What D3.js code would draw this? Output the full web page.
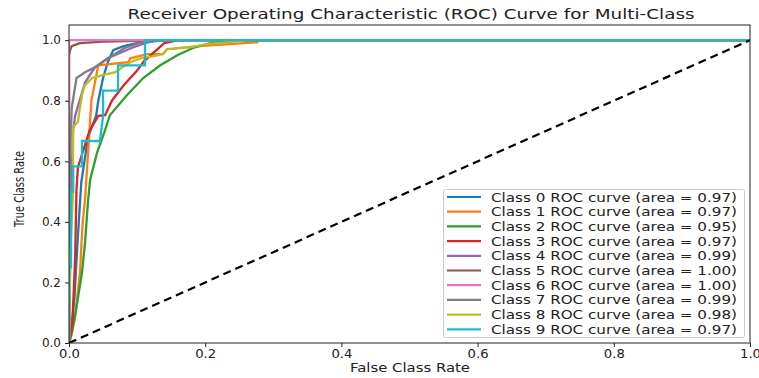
<!DOCTYPE html>
<html><head><meta charset="utf-8">
<script src="https://cdn.jsdelivr.net/npm/d3@7"></script>
<style>
html,body{margin:0;padding:0;background:#fff;}
svg text{font-family:"DejaVu Sans",sans-serif;fill:#222;}
</style></head>
<body>
<svg id="chart" width="759" height="378"></svg>
<script>
const classNames = ["Class 0","Class 1","Class 2","Class 3","Class 4","Class 5","Class 6","Class 7","Class 8","Class 9"];
const aucValues = ["0.97","0.97","0.95","0.97","0.99","1.00","1.00","0.99","0.98","0.97"];
const colors = ["#1f77b4","#ff7f0e","#2ca02c","#d62728","#9467bd","#8c564b","#e377c2","#7f7f7f","#bcbd22","#17becf"];
const xTicks = [0,0.2,0.4,0.6,0.8,1.0];
const yTicks = [0,0.2,0.4,0.6,0.8,1.0];

const roc0 = [[0,0],[0.004,0.06],[0.008,0.15],[0.013,0.35],[0.018,0.53],[0.028,0.68],[0.04,0.752],[0.043,0.80],[0.05,0.875],[0.057,0.927],[0.065,0.967],[0.08,0.98],[0.1,0.99],[0.14,1.0],[1,1]];
const roc1 = [[0,0],[0.004,0.03],[0.009,0.086],[0.016,0.231],[0.020,0.396],[0.0235,0.472],[0.033,0.802],[0.043,0.917],[0.087,0.927],[0.09,0.94],[0.115,0.954],[0.138,0.954],[0.144,0.97],[0.19,0.98],[0.276,0.993],[0.28,1.0],[1,1]];
const roc2 = [[0,0],[0.004,0.033],[0.011,0.119],[0.019,0.231],[0.0235,0.33],[0.028,0.47],[0.031,0.538],[0.041,0.627],[0.053,0.703],[0.060,0.752],[0.085,0.818],[0.109,0.875],[0.134,0.917],[0.159,0.950],[0.182,0.974],[0.207,0.990],[0.232,0.997],[0.276,1.0],[1,1]];
const roc3 = [[0,0],[0.005,0.066],[0.009,0.28],[0.011,0.505],[0.013,0.58],[0.03,0.70],[0.043,0.75],[0.053,0.752],[0.063,0.80],[0.08,0.85],[0.1,0.90],[0.11,0.93],[0.13,0.97],[0.14,0.99],[0.16,1.0],[1,1]];
const roc4 = [[0,0],[0.002,0.3],[0.004,0.55],[0.006,0.7],[0.009,0.75],[0.0235,0.86],[0.038,0.91],[0.057,0.94],[0.092,0.974],[0.116,0.993],[0.13,1.0],[1,1]];
const roc5 = [[0,0],[0,0.95],[0.002,0.97],[0.004,0.98],[0.016,0.99],[0.05,0.995],[0.1,0.998],[0.2,1.0],[1,1]];
const roc6 = [[0,0],[0,1.0],[1,1]];
const roc7 = [[0,0],[0,0.4],[0.002,0.65],[0.004,0.776],[0.011,0.875],[0.0235,0.894],[0.038,0.91],[0.057,0.94],[0.082,0.974],[0.107,0.993],[0.12,1.0],[1,1]];
const roc8 = [[0,0],[0.002,0.3],[0.006,0.505],[0.006,0.713],[0.013,0.73],[0.016,0.776],[0.019,0.818],[0.023,0.85],[0.034,0.875],[0.048,0.884],[0.068,0.894],[0.078,0.91],[0.09,0.927],[0.105,0.94],[0.13,0.95],[0.138,0.954],[0.144,0.97],[0.178,0.977],[0.203,0.987],[0.25,0.997],[0.266,1.0],[1,1]];
const roc9 = [[0,0],[0,0.25],[0.003,0.25],[0.003,0.5],[0.006,0.5],[0.006,0.583],[0.019,0.583],[0.019,0.667],[0.0455,0.667],[0.05,0.75],[0.05,0.833],[0.072,0.833],[0.072,0.917],[0.1116,0.917],[0.1116,1.0],[1,1]];
const rocs = [roc0,roc1,roc2,roc3,roc4,roc5,roc6,roc7,roc8,roc9];
const diagonal = [[0,0],[1,1]];

const svg = d3.select("#chart");
const L = 69, R = 750, T = 25, B = 343;
const x = d3.scaleLinear().domain([0,1]).range([L,R]);
const y = d3.scaleLinear().domain([0,1.05]).range([B,T]);

svg.append("defs").append("clipPath").attr("id","clip")
  .append("rect").attr("x",L).attr("y",T).attr("width",R-L).attr("height",B-T);

const line = d3.line().x(d=>x(d[0])).y(d=>y(d[1]));
const plot = svg.append("g").attr("clip-path","url(#clip)");
rocs.forEach((r,i)=>{
  plot.append("path").datum(r).attr("d",line)
    .attr("fill","none").attr("stroke",colors[i]).attr("stroke-width",2.3)
    .attr("stroke-linejoin","miter");
});
plot.append("path").datum(diagonal).attr("d",line)
  .attr("fill","none").attr("stroke","#000").attr("stroke-width",2.2)
  .attr("stroke-dasharray","8,5");

// frame
svg.append("rect").attr("x",L).attr("y",T).attr("width",R-L).attr("height",B-T)
  .attr("fill","none").attr("stroke","#222").attr("stroke-width",1);

const xAxis = svg.append("g").attr("transform",`translate(0,${B})`)
  .call(d3.axisBottom(x).tickValues(xTicks).tickFormat(d3.format(".1f")).tickSize(4).tickPadding(2));
const yAxis = svg.append("g").attr("transform",`translate(${L},0)`)
  .call(d3.axisLeft(y).tickValues(yTicks).tickFormat(d3.format(".1f")).tickSize(4).tickPadding(4));
[xAxis,yAxis].forEach(a=>{
  a.select(".domain").remove();
  a.selectAll("line").attr("stroke","#222");
  a.selectAll("text").attr("font-size",12).attr("font-family","DejaVu Sans").attr("fill","#222");
});
xAxis.selectAll("text").attr("textLength",21).attr("lengthAdjust","spacingAndGlyphs");

svg.append("text").attr("x",411).attr("y",19).attr("text-anchor","middle")
  .attr("font-size",14).attr("textLength",567).attr("lengthAdjust","spacingAndGlyphs")
  .text("Receiver Operating Characteristic (ROC) Curve for Multi-Class");
svg.append("text").attr("x",410).attr("y",372).attr("text-anchor","middle")
  .attr("font-size",12.5).attr("textLength",120).attr("lengthAdjust","spacingAndGlyphs")
  .text("False Class Rate");
svg.append("text").attr("transform","translate(24,189) rotate(-90)").attr("text-anchor","middle")
  .attr("font-size",14.5).attr("textLength",76).attr("lengthAdjust","spacingAndGlyphs")
  .text("True Class Rate");

// legend
const lg = svg.append("g");
lg.append("rect").attr("x",443.5).attr("y",189.5).attr("width",301).attr("height",148)
  .attr("fill","#fff").attr("fill-opacity",0.85).attr("stroke","#ccc").attr("rx",2);
classNames.forEach((c,i)=>{
  const yy = 197 + i*14.7;
  lg.append("line").attr("x1",447).attr("x2",481).attr("y1",yy).attr("y2",yy)
    .attr("stroke",colors[i]).attr("stroke-width",2.2);
  lg.append("text").attr("x",491).attr("y",yy+4.5).attr("font-size",12.5)
    .attr("textLength",246).attr("lengthAdjust","spacingAndGlyphs")
    .text(`${c} ROC curve (area = ${aucValues[i]})`);
});
</script>
</body></html>
